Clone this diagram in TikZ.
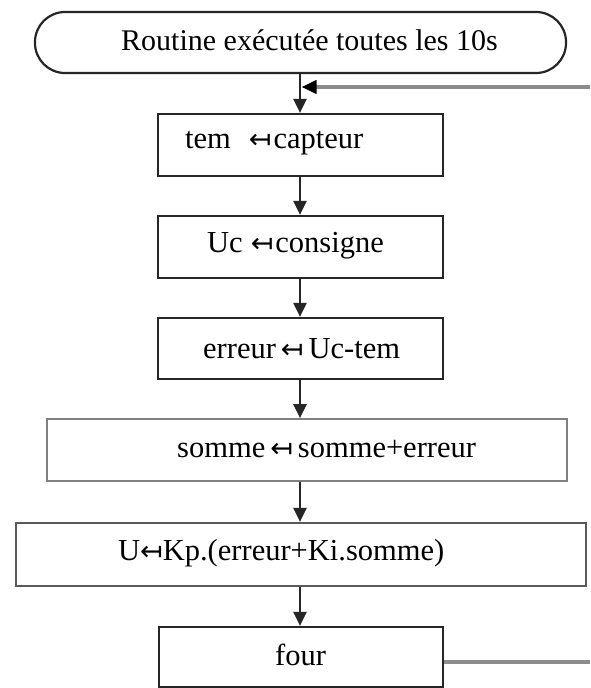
\documentclass[tikz,border=0pt]{standalone}
\usepackage{fontspec}
\setmainfont{Liberation Serif}
\newfontfamily\arrfont{DejaVu Sans}
\usetikzlibrary{arrows.meta}
\newcommand{\assignarrow}{{\arrfont\fontsize{27}{30}\selectfont ↤}}
\begin{document}
\begin{tikzpicture}[x=1pt, y=-1pt,
  flowbox/.style={draw=black!85, line width=2.2pt, fill=white, minimum width=#1, minimum height=62pt, inner sep=0pt},
  lbl/.style={anchor=west, inner sep=0pt, font=\fontsize{30.5}{36}\selectfont},
  flow/.style={draw=black!85, line width=2.4pt, -{Triangle[length=14pt, width=13pt]}},
  loopline/.style={draw=black!45, line width=4pt}
]
  % canvas
  \fill[white] (0,0) rectangle (590,688);
  \useasboundingbox (0,0) rectangle (590,688);

  % start terminator
  \node[draw=black!85, line width=2.2pt, rounded corners=30pt, minimum width=531pt, minimum height=61pt, inner sep=0pt] (term) at (300.5,42.5) {};
  \node[lbl, font=\fontsize{30}{36}\selectfont] (tterm) at (121,40) {Routine exécutée toutes les 10s};

  % processing steps
  \node[flowbox=285pt] (b1) at (300.5,145) {};
  \node[lbl] (t1) at (185,143) {tem\hspace{18pt}\assignarrow\hspace{2pt}capteur};

  \node[flowbox=285pt] (b2) at (300.5,247) {};
  \node[lbl] (t2) at (207,246) {Uc\hspace{8pt}\assignarrow\hspace{2pt}consigne};

  \node[flowbox=285pt, minimum height=61pt] (b3) at (300.5,348.5) {};
  \node[lbl] (t3) at (203,349) {erreur\hspace{5pt}\assignarrow\hspace{5pt}Uc-tem};

  \node[flowbox=520pt, draw=black!50, line width=1.7pt] (b4) at (307,450) {};
  \node[lbl] (t4) at (177,449) {somme\hspace{5pt}\assignarrow\hspace{5pt}somme+erreur};

  \node[flowbox=570pt, draw=black!65, minimum height=63pt] (b5) at (301,554.5) {};
  \node[lbl] (t5) at (118,553) {U\assignarrow Kp.(erreur+Ki.somme)};

  \node[flowbox=284pt, minimum height=60pt] (b6) at (301,657) {};
  \node[lbl] (t6) at (275,655) {four};

  % vertical spine of the sequence, loop entry and exit points at the right edge
  \coordinate (spine) at (300,0);
  \coordinate (fbOut) at (590,662);
  \coordinate (fbIn) at (590,87);
  \coordinate (join) at (301.5,87);

  % feedback line
  \draw[loopline] (b6.east |- fbOut) -- (fbOut);
  \draw[loopline, -{Triangle[length=15pt, width=13pt, black]}] (fbIn) -- (join);

  % sequence arrows
  \draw[flow] (term.south -| spine) -- (b1.north -| spine);
  \draw[flow] (b1.south -| spine) -- (b2.north -| spine);
  \draw[flow] (b2.south -| spine) -- (b3.north -| spine);
  \draw[flow] (b3.south -| spine) -- (b4.north -| spine);
  \draw[flow] (b4.south -| spine) -- (b5.north -| spine);
  \draw[flow] (b5.south -| spine) -- (b6.north -| spine);
\end{tikzpicture}
\end{document}
